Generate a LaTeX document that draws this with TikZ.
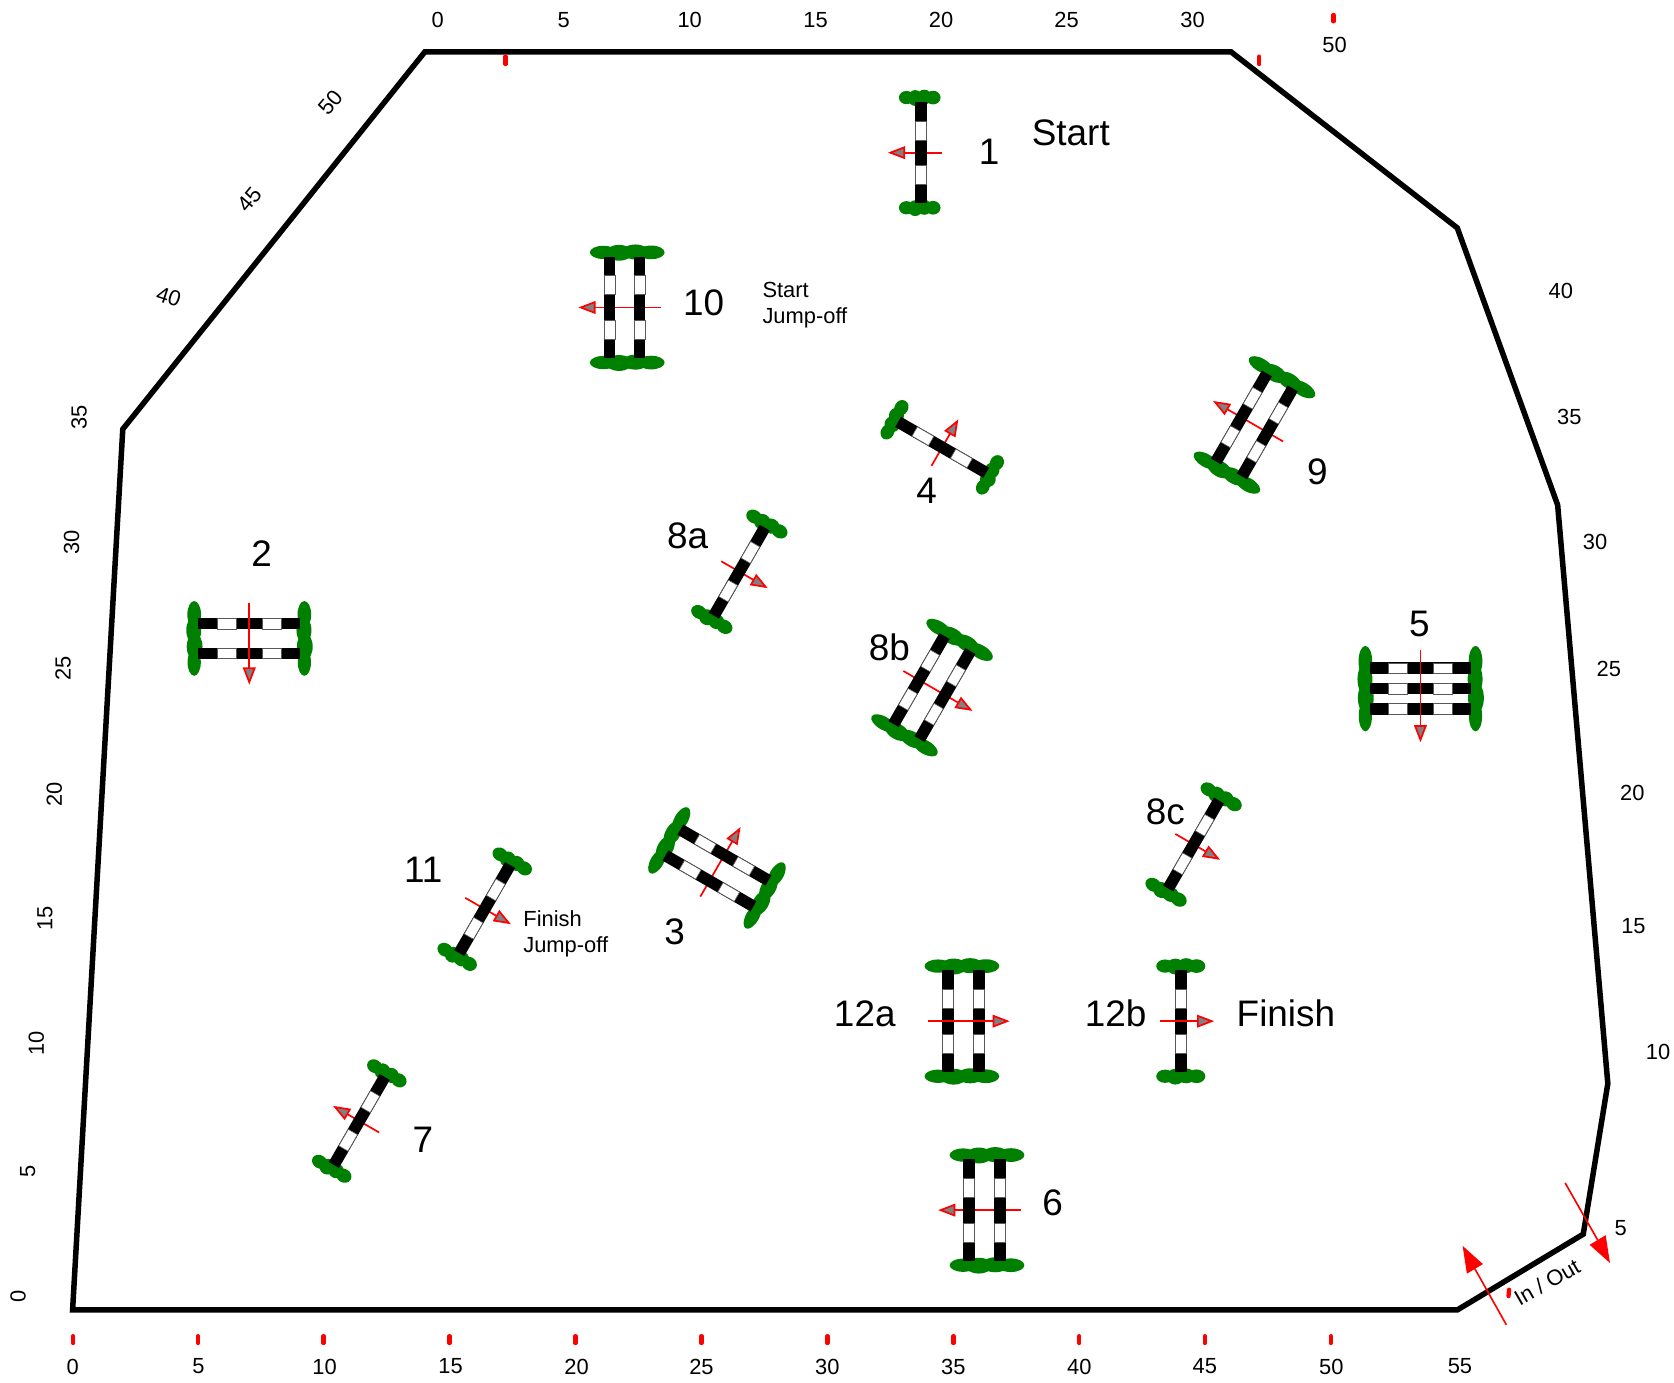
\documentclass[tikz,border=0pt]{standalone}
\usepackage{fontspec}
\setmainfont{Liberation Sans}
\definecolor{bushgreen}{RGB}{0,128,0}
\definecolor{headgray}{RGB}{128,128,128}
\definecolor{tickred}{RGB}{255,0,0}
\newcommand{\smalltxt}{\fontsize{17.5pt}{21pt}\selectfont}
\newcommand{\bigtxt}{\fontsize{29.5pt}{35pt}\selectfont}
\newcommand{\bsh}{0}
\tikzset{
  arena/.style={draw=black,line width=4.4pt,line join=miter},
  lab/.style={inner sep=0pt,font=\smalltxt},
  big/.style={inner sep=0pt,font=\bigtxt},
  tickmark/.style={draw=tickred,line width=3.4pt,line cap=round},
  bigarrow/.style={draw=tickred,line width=1.3pt},
}
% arrow across a fence, local frame
\newcommand{\crossarrow}[2]{%
  \draw[tickred,line width=1.35pt] (#1,0) -- (#2,0);
  \pgfmathsetmacro{\hb}{#2-(#2-#1)/abs(#2-#1)*13}
  \filldraw[draw=tickred,fill=headgray,line width=1.35pt,line join=miter] (\hb,-5) -- (#2,0) -- (\hb,5) -- cycle;
}
% \fence{cx}{cy}{rot}{half length}{rail offsets}{bush half width}{arrow from}{arrow to}{1 = arrow over rails}
\newcommand{\fence}[9]{%
  \begin{scope}[shift={(#1,#2)},rotate=#3]
    \ifnum#9=0 \crossarrow{#7}{#8}\fi
    \foreach \ss in {-1,1}{
      \foreach \ff/\ry/\dy in {-0.64/6.2/0,-0.22/7.4/0.4,0.22/7.0/-0.4,0.64/6.4/0}{
        \pgfmathsetmacro{\cxx}{\ff*#6+\bsh}
        \pgfmathsetmacro{\cyy}{\ss*(#4+4)+\dy}
        \pgfmathsetmacro{\rxx}{0.36*#6*0.03}
        \pgfmathsetmacro{\ryy}{\ry*0.03}
        \fill[bushgreen] (\cxx,\cyy) ellipse [x radius=\rxx cm,y radius=\ryy cm];
      }
    }
    \foreach \rr in {#5}{
      \fill[black] (\rr-5.5,-#4) rectangle (\rr+5.5,#4);
      \filldraw[fill=white,draw=black!65,line width=0.5pt] (\rr-5,-0.625*#4) rectangle (\rr+5,-0.25*#4);
      \filldraw[fill=white,draw=black!65,line width=0.5pt] (\rr-5,0.25*#4) rectangle (\rr+5,0.625*#4);
    }
    \ifnum#9=1 \crossarrow{#7}{#8}\fi
  \end{scope}
}
\begin{document}
\begin{tikzpicture}[x=0.03cm,y=-0.03cm]
\useasboundingbox (0,0) rectangle (1568,1295.4);
\fill[white] (0,0) rectangle (1568,1295.4);
% arena
\draw[arena] (68,1227) -- (115,402) -- (398,48.5) -- (1153,48.5) -- (1365,213.5) -- (1459,473) -- (1506,1015) -- (1483,1156) -- (1365,1227) -- cycle;
% red ticks
\foreach \x in {68.5,185.5,303,421,539,657,775,893,1011,1128.5,1246.5}{
  \draw[tickmark] (\x,1251.5) -- (\x,1258);
}
\draw[tickmark] (473.5,53) -- (473.5,60);
\draw[tickmark] (1179.5,53) -- (1179.5,60);
\draw[tickmark] (1249,14) -- (1249,20);
\draw[tickmark] (1413.5,1208) -- (1413,1214);
% bottom scale
\foreach \x/\t in {68/0,186/5,304/10,422/15,540/20,657/25,775/30,893/35,1011/40,1128.5/45,1247/50,1367.5/55}{
  \node[lab] at (\x,1280) {\t};
}
% top scale
\foreach \x/\t in {410/0,528/5,646/10,764/15,881.5/20,999/25,1117/30}{
  \node[lab] at (\x,19) {\t};
}
\node[lab] at (1250,42) {50};
% left scale
\foreach \x/\y/\t in {17/1214/0,26/1097/5,34/977/10,42/860/15,51/744/20,59/626/25,67/508/30,74/391/35}{
  \node[lab,rotate=90] at (\x,\y) {\t};
}
\node[lab,rotate=-18] at (158,278) {40};
\node[lab,rotate=50] at (234,187) {45};
\node[lab,rotate=50] at (310,96) {50};
% right scale
\foreach \x/\y/\t in {1462/272.5/40,1470/390.5/35,1494/508/30,1507/627/25,1529/743/20,1530/867/15,1553/985/10,1518/1150/5}{
  \node[lab] at (\x,\y) {\t};
}
% gate
\node[lab,rotate=30] at (1449,1201) {In / Out};
\coordinate (gateA) at (1411,1241);
\coordinate (gateAb) at (1381.5,1188.5);
\coordinate (gateB) at (1466,1108);
\coordinate (gateBb) at (1496.5,1161.5);
\draw[bigarrow] (gateA) -- (gateAb);
\fill[tickred] (1370,1167) -- (1389,1184) -- (1374,1193) -- cycle;
\draw[bigarrow] (gateB) -- (gateBb);
\fill[tickred] (1508,1183) -- (1489,1166) -- (1504,1157) -- cycle;
% fences
\renewcommand{\bsh}{-1}
\fence{862.5}{143}{0}{47.6}{0}{19.5}{19.5}{-28.5}{0}
\renewcommand{\bsh}{2.5}
\fence{585}{288}{0}{47.6}{-14,14}{35}{34}{-41}{0}
\fence{922}{1133.5}{0}{47.6}{-14.5,14.5}{35}{34}{-41}{0}
\renewcommand{\bsh}{-1.5}
\fence{902.5}{956.5}{0}{47.6}{-14.5,14.5}{35}{-33}{41}{1}
\renewcommand{\bsh}{0}
\fence{233.5}{598}{90}{47.6}{-14,14}{35}{33}{-41}{1}
\fence{1330.5}{645}{90}{47.6}{-19,0,19}{40}{36}{-48}{1}
\fence{882.5}{419}{60}{47.6}{0}{20.5}{-20}{28}{0}
\fence{1175}{398}{-30}{47.6}{-14,14}{35.5}{31}{-42.5}{0}
\fence{692.5}{535.5}{-30}{47.6}{0}{21.5}{-19.5}{28.5}{0}
\fence{873}{644}{-30}{47.6}{-14,14}{35.5}{-31}{41.5}{0}
\fence{1118}{791}{-30}{47.6}{0}{21.5}{-19.7}{26.4}{0}
\fence{454}{851.5}{-30}{47.6}{0}{20.5}{-21}{26}{0}
\fence{336.5}{1050}{-30}{47.6}{0}{20.5}{21.5}{-26}{0}
\fence{671.5}{813}{60}{47.6}{-14,14}{35.5}{-31}{42}{0}
\fence{1106}{956.5}{0}{47.6}{0}{23}{-19}{29}{1}
% labels
\node[big] at (926.5,142) {1};
\node[big] at (1003,124) {Start};
\node[big] at (659,283.5) {10};
\node[lab,anchor=west] at (714,272) {Start};
\node[lab,anchor=west] at (714,298) {Jump-off};
\node[big] at (245,519) {2};
\node[big] at (868,460) {4};
\node[big] at (644,502) {8a};
\node[big] at (1234,442) {9};
\node[big] at (1329.5,584.5) {5};
\node[big] at (833,606.5) {8b};
\node[big] at (1091.5,760.5) {8c};
\node[big] at (396.5,815) {11};
\node[lab,anchor=west] at (490,860.5) {Finish};
\node[lab,anchor=west] at (490,887) {Jump-off};
\node[big] at (632,873) {3};
\node[big] at (810,950) {12a};
\node[big] at (1045,949.5) {12b};
\node[big] at (1204.5,949.5) {Finish};
\node[big] at (396,1068) {7};
\node[big] at (986,1126.5) {6};
\end{tikzpicture}
\end{document}
